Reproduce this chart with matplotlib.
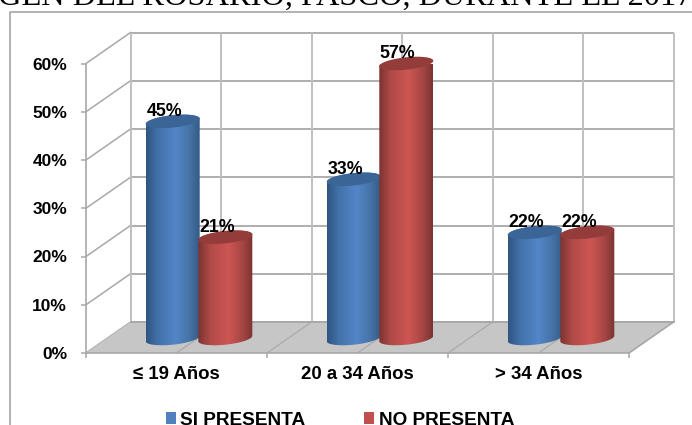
import numpy as np
import matplotlib
matplotlib.use("Agg")
import matplotlib.pyplot as plt
from matplotlib.colors import LinearSegmentedColormap
from matplotlib.lines import Line2D
from matplotlib.patches import Patch, PathPatch, Polygon
from matplotlib.path import Path

categories = ["≤ 19 Años", "20 a 34 Años", "> 34 Años"]
si_presenta = [45, 33, 22]
no_presenta = [21, 57, 22]
series_names = ["SI PRESENTA", "NO PRESENTA"]
y_ticks = [0, 10, 20, 30, 40, 50, 60]
title_text = "GEN DEL ROSARIO, PASCO, DURANTE EL 2017."

W, H = 692, 425
GRID = "#a8a8a8"
GRID_LIGHT = "#c0c0c0"
FLOOR = "#c6c6c6"
LABEL_FONT = "Liberation Sans"

fig = plt.figure(figsize=(W / 100, H / 100), dpi=100)
fig.patch.set_facecolor("white")

# Front plane of the 3D box: 86..629 px wide, 353..63.5 px tall
ax = fig.add_axes([86 / W, 1 - 353 / H, (629 - 86) / W, (353 - 63.5) / H])
ax.set_facecolor("none")
ax.set_xlim(0, 3)
ax.set_ylim(0, 60)

px_x = 3 / (629 - 86)          # data units per pixel, horizontally
px_y = 60 / (353 - 63.5)       # data units per pixel, vertically
depth_x = 44.5 * px_x
depth_y = 31 * px_y

# Back wall and side wall
for v in y_ticks:
    ax.plot([depth_x, 3 + depth_x], [v + depth_y] * 2, color=GRID, lw=1.3,
            clip_on=False, zorder=1, solid_capstyle="butt")
    ax.plot([0, depth_x], [v, v + depth_y], color=GRID, lw=1.1,
            clip_on=False, zorder=1)
for x in np.arange(0, 3.01, 0.5):
    ax.plot([x + depth_x] * 2, [depth_y, 60 + depth_y], color=GRID_LIGHT, lw=1.4,
            clip_on=False, zorder=1, solid_capstyle="butt")

# Floor
ax.add_patch(Polygon([[0, 0], [3, 0], [3 + depth_x, depth_y], [depth_x, depth_y]],
                     closed=True, facecolor=FLOOR, edgecolor="none",
                     clip_on=False, zorder=2))
for x in np.arange(0.5, 3.01, 0.5):
    ax.plot([x, x + depth_x], [0, depth_y], color="#adadad", lw=1.0,
            clip_on=False, zorder=2.1)
ax.plot([depth_x, 3 + depth_x], [depth_y, depth_y], color=GRID, lw=1.3,
        clip_on=False, zorder=2.1)
ax.plot([3, 3 + depth_x], [0, depth_y], color=GRID, lw=1.0, clip_on=False, zorder=2.1)

blue_cmap = LinearSegmentedColormap.from_list(
    "blue_body", [(0, "#2f5480"), (0.22, "#4272aa"), (0.55, "#5386c8"),
                  (0.8, "#4674a8"), (1, "#345a85")])
red_cmap = LinearSegmentedColormap.from_list(
    "red_body", [(0, "#7a3331"), (0.22, "#b04a47"), (0.55, "#cd5652"),
                 (0.8, "#a84745"), (1, "#7b3331")])
gradient = np.linspace(0, 1, 256).reshape(1, -1)

half_width = 27 * px_x
tilt = 2.7 * px_y
minor = 6.2 * px_y
base_lift = 14.5 * px_y


def draw_cylinder(center, value, cmap, top_color, z):
    """Draw a shaded cylinder with its axis at `center`, rising to `value`."""
    top = value + base_lift
    t_low = np.linspace(np.pi, 2 * np.pi, 60)
    t_up = np.linspace(0, np.pi, 60)
    low = np.c_[center + half_width * np.cos(t_low),
                base_lift + tilt * np.cos(t_low) + minor * np.sin(t_low)]
    up = np.c_[center + half_width * np.cos(t_up),
               top + tilt * np.cos(t_up) + minor * np.sin(t_up)]
    outline = np.vstack([low, up, low[:1]])
    clip = PathPatch(Path(outline), transform=ax.transData,
                     facecolor="none", edgecolor="none")
    ax.add_patch(clip)
    body = ax.imshow(gradient, cmap=cmap, aspect="auto", zorder=z, clip_on=True,
                     extent=[center - half_width, center + half_width, 0, top + 3],
                     interpolation="bilinear")
    body.set_clip_path(clip)
    t = np.linspace(0, 2 * np.pi, 120)
    cap = np.c_[center + half_width * np.cos(t),
                top + tilt * np.cos(t) + minor * np.sin(t)]
    ax.add_patch(Polygon(cap, closed=True, facecolor=top_color, edgecolor="none",
                         clip_on=False, zorder=z + 0.01))


def draw_label(center, value, z):
    ax.annotate(f"{value}%", (center, value + base_lift),
                xytext=(-8.6 * 0.72, 9.5 * 0.72), textcoords="offset points",
                ha="center", va="center", fontsize=12.8, fontweight="bold",
                family=LABEL_FONT, color="black", zorder=z, annotation_clip=False)


group_centers = [0.5, 1.5, 2.5]
bar_shift = 26.3 * px_x
group_lift = 22.5 * px_x
for i, c in enumerate(group_centers):
    mid = c + group_lift
    draw_cylinder(mid - bar_shift, si_presenta[i], blue_cmap, "#3b6597", 3 + i)
    draw_cylinder(mid + bar_shift, no_presenta[i], red_cmap, "#933c3a", 3.3 + i)
for i, c in enumerate(group_centers):
    mid = c + group_lift
    draw_label(mid - bar_shift, si_presenta[i], 10)
    draw_label(mid + bar_shift, no_presenta[i], 10)

ax.set_xlim(0, 3)
ax.set_ylim(0, 60)

# Axes, ticks and tick labels
for side in ("top", "right"):
    ax.spines[side].set_visible(False)
for side in ("left", "bottom"):
    ax.spines[side].set_color(GRID)
    ax.spines[side].set_linewidth(1.2)
    ax.spines[side].set_zorder(2.5)
ax.set_yticks(y_ticks)
ax.set_yticklabels([f"{v}%" for v in y_ticks], fontsize=12.5, fontweight="bold",
                   family=LABEL_FONT)
ax.tick_params(axis="y", length=3.6, width=1.1, color=GRID, pad=10)
ax.set_xticks([0, 1, 2, 3])
ax.set_xticklabels([])
ax.tick_params(axis="x", which="major", length=3.6, width=1.1, color=GRID)
ax.set_xticks(group_centers, minor=True)
ax.set_xticklabels(categories, minor=True, fontsize=13.4, fontweight="bold",
                   family=LABEL_FONT)
ax.tick_params(axis="x", which="minor", length=0, pad=9.5)

# Legend
handles = [Patch(facecolor="#4f81bd", label=series_names[0]),
           Patch(facecolor="#c0504d", label=series_names[1])]
fig.legend(handles=handles, loc="center left", bbox_to_anchor=(148.5 / W, 1 - 420.5 / H),
           ncol=2, frameon=False, handlelength=0.52, handleheight=0.6,
           handletextpad=0.26, columnspacing=3.05,
           prop={"family": LABEL_FONT, "weight": "bold", "size": 13.7})

# Outer frame of the chart area and the heading running above it
fig.add_artist(Line2D([10 / W, 10 / W, 1], [0, 1 - 11.5 / H, 1 - 11.5 / H],
                      color="#a6a6a6", lw=1.2))
fig.text(-2 / W, 1 - 5 / H, title_text, family="Liberation Serif", fontsize=23.3,
         color="black", ha="left", va="baseline")

fig.savefig("out.png", dpi=100)
